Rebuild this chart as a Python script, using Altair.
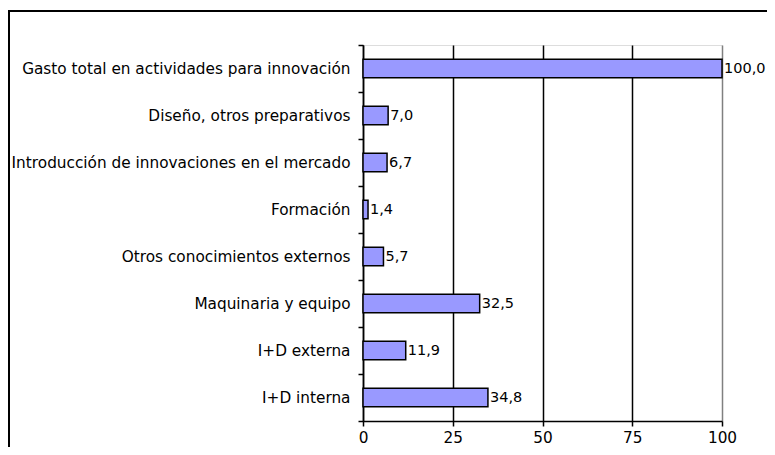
import altair as alt
import pandas as pd

categories = [
    "Gasto total en actividades para innovación",
    "Diseño, otros preparativos",
    "Introducción de innovaciones en el mercado",
    "Formación",
    "Otros conocimientos externos",
    "Maquinaria y equipo",
    "I+D externa",
    "I+D interna",
]
values = [100.0, 7.0, 6.7, 1.4, 5.7, 32.5, 11.9, 34.8]
x_ticks = [0, 25, 50, 75, 100]

df = pd.DataFrame({"cat": categories, "v": values})
FONT = "DejaVu Sans"
FS = 15.3

W, H = 359, 376
PAD_L, PAD_T = 355, 37
PAD_R = 759 - PAD_L - W
PAD_B = 439 - PAD_T - H

y_enc = alt.Y(
    "cat:N",
    sort=categories,
    title=None,
    scale=alt.Scale(paddingInner=0, paddingOuter=0),
    axis=alt.Axis(
        tickBand="extent",
        tickSize=5,
        tickColor="black",
        domainColor="black",
        domainWidth=1.5,
        tickWidth=1.5,
        labelPadding=8,
        labelFont=FONT,
        labelFontSize=FS,
        labelColor="black",
        labelLimit=400,
    ),
)

x_enc = alt.X(
    "v:Q",
    title=None,
    scale=alt.Scale(domain=[0, 100], nice=False),
    axis=alt.Axis(
        values=x_ticks,
        tickSize=5,
        tickColor="black",
        tickWidth=1.5,
        domainColor="black",
        domainWidth=1.5,
        labelPadding=4,
        labelFont=FONT,
        labelFontSize=FS,
        labelColor="black",
        labelFlush=False,
        grid=True,
        gridColor={"condition": {"test": "datum.value === 100", "value": "#808080"}, "value": "black"},
        gridWidth=1.5,
    ),
)

base = alt.Chart(df)

bars = base.mark_bar(
    color="#9999FF", stroke="black", strokeWidth=1.5, height=alt.RelativeBandSize(0.39)
).encode(x=x_enc, y=y_enc)

labels = base.transform_calculate(
    lab="replace(format(datum.v, '.1f'), '.', ',')"
).mark_text(align="left", baseline="middle", dx=2, font=FONT, fontSize=14.5, color="black").encode(
    x=alt.X("v:Q"), y=alt.Y("cat:N", sort=categories), text="lab:N"
)

frame_left = alt.Chart(df).mark_rule(color="black", strokeWidth=2).encode(
    x=alt.value(-354), y=alt.value(-34), y2=alt.value(H + 60)
)
frame_top = alt.Chart(df).mark_rule(color="black", strokeWidth=2).encode(
    x=alt.value(-355), x2=alt.value(W + 60), y=alt.value(-34)
)

chart = alt.layer(bars, labels, frame_left, frame_top).properties(
    width=W,
    height=H,
    autosize=alt.AutoSizeParams(type="none"),
    padding={"left": PAD_L, "top": PAD_T, "right": PAD_R, "bottom": PAD_B},
).configure_view(stroke="#808080", strokeWidth=1.5).configure(background="white")

chart.save("out.html", embed_options={"renderer": "svg", "actions": False})
